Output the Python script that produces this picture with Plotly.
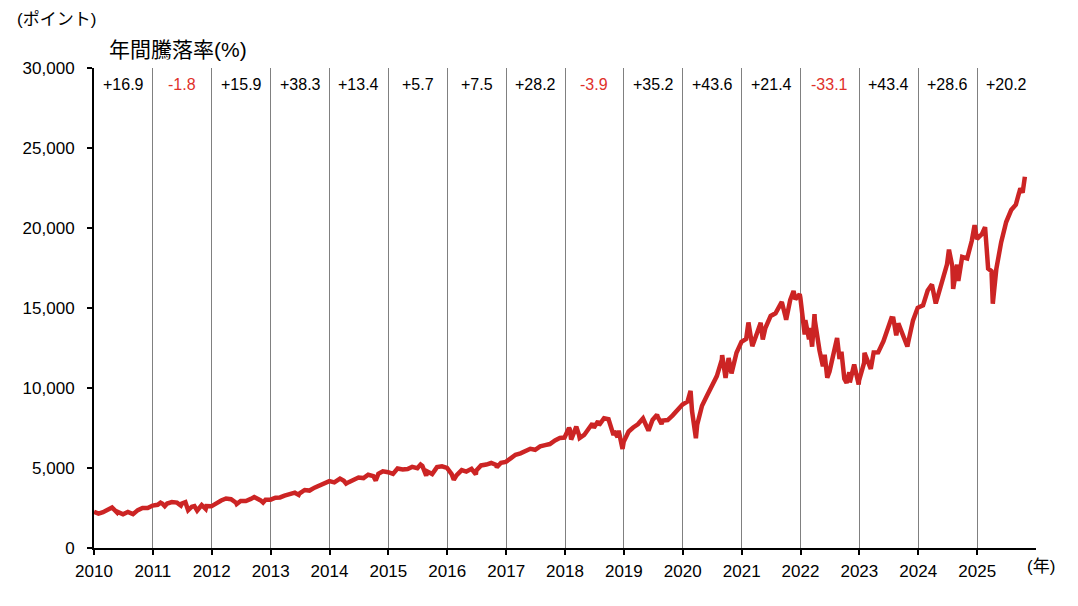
import plotly.graph_objects as go

# ---- data (Nasdaq-style composite index, points) ----
dates = [
    "2010-01-01", "2010-01-29", "2010-02-26", "2010-03-31", "2010-04-23", "2010-04-30", "2010-05-25", "2010-05-28",
    "2010-06-30", "2010-07-30", "2010-08-31", "2010-09-30", "2010-10-29", "2010-11-30", "2010-12-31",
    "2011-01-31", "2011-02-18", "2011-02-28", "2011-03-16", "2011-03-31", "2011-04-29", "2011-05-31", "2011-06-24",
    "2011-06-30", "2011-07-22", "2011-08-08", "2011-08-31", "2011-09-16", "2011-10-03", "2011-10-31", "2011-11-25",
    "2011-11-30", "2011-12-30",
    "2012-01-31", "2012-02-29", "2012-03-30", "2012-04-30", "2012-05-31", "2012-06-04", "2012-06-29", "2012-07-31",
    "2012-08-31", "2012-09-21", "2012-10-31", "2012-11-15", "2012-11-30", "2012-12-31",
    "2013-01-31", "2013-02-28", "2013-03-28", "2013-04-30", "2013-05-31", "2013-06-24", "2013-06-28", "2013-07-31",
    "2013-08-30", "2013-09-30", "2013-10-31", "2013-11-29", "2013-12-31",
    "2014-01-31", "2014-02-28", "2014-03-07", "2014-03-31", "2014-04-14", "2014-04-30", "2014-05-30", "2014-06-30",
    "2014-07-31", "2014-08-29", "2014-09-30", "2014-10-15", "2014-10-31", "2014-11-28", "2014-12-31",
    "2015-01-30", "2015-02-27", "2015-03-31", "2015-04-30", "2015-05-29", "2015-06-30", "2015-07-20", "2015-07-31",
    "2015-08-24", "2015-08-31", "2015-09-30", "2015-10-30", "2015-11-30", "2015-12-31",
    "2016-01-29", "2016-02-11", "2016-02-29", "2016-03-31", "2016-04-29", "2016-05-31", "2016-06-27", "2016-06-30",
    "2016-07-29", "2016-08-31", "2016-09-30", "2016-10-31", "2016-11-04", "2016-11-30", "2016-12-30",
    "2017-01-31", "2017-02-28", "2017-03-31", "2017-04-28", "2017-05-31", "2017-06-30", "2017-07-31", "2017-08-31",
    "2017-09-29", "2017-10-31", "2017-11-30", "2017-12-29",
    "2018-01-26", "2018-01-31", "2018-02-08", "2018-02-28", "2018-03-12", "2018-03-29", "2018-04-02", "2018-04-30",
    "2018-05-31", "2018-06-20", "2018-06-29", "2018-07-25", "2018-07-31", "2018-08-31", "2018-09-28", "2018-10-29",
    "2018-10-31", "2018-11-23", "2018-11-30", "2018-12-24", "2018-12-31",
    "2019-01-31", "2019-02-28", "2019-03-29", "2019-04-30", "2019-05-31", "2019-06-03", "2019-06-28", "2019-07-26",
    "2019-07-31", "2019-08-23", "2019-08-30", "2019-09-30", "2019-10-31", "2019-11-29", "2019-12-31",
    "2020-01-31", "2020-02-19", "2020-02-28", "2020-03-09", "2020-03-23", "2020-03-31", "2020-04-30", "2020-05-29",
    "2020-06-30", "2020-07-31", "2020-08-31", "2020-09-02", "2020-09-23", "2020-09-30", "2020-10-12", "2020-10-30",
    "2020-11-30", "2020-12-31",
    "2021-01-29", "2021-02-12", "2021-02-26", "2021-03-08", "2021-03-31", "2021-04-29", "2021-04-30", "2021-05-12",
    "2021-05-28", "2021-06-30", "2021-07-30", "2021-08-31", "2021-09-07", "2021-09-30", "2021-10-04", "2021-10-29",
    "2021-11-19", "2021-11-30", "2021-12-27", "2021-12-31",
    "2022-01-27", "2022-01-31", "2022-02-23", "2022-02-28", "2022-03-14", "2022-03-29", "2022-03-31", "2022-04-29",
    "2022-05-20", "2022-05-31", "2022-06-16", "2022-06-30", "2022-07-29", "2022-08-16", "2022-08-31", "2022-09-12",
    "2022-09-30", "2022-10-14", "2022-10-31", "2022-11-03", "2022-11-30", "2022-12-28", "2022-12-30",
    "2023-01-31", "2023-02-02", "2023-02-28", "2023-03-13", "2023-03-31", "2023-04-28", "2023-05-31", "2023-06-30",
    "2023-07-19", "2023-07-31", "2023-08-18", "2023-08-31", "2023-09-29", "2023-10-26", "2023-10-31", "2023-11-30",
    "2023-12-29",
    "2024-01-31", "2024-02-29", "2024-03-21", "2024-03-28", "2024-04-19", "2024-04-30", "2024-05-31", "2024-06-28",
    "2024-07-10", "2024-07-31", "2024-08-05", "2024-08-30", "2024-09-06", "2024-09-30", "2024-10-31", "2024-11-29",
    "2024-12-16", "2024-12-31",
    "2025-01-31", "2025-02-19", "2025-02-28", "2025-03-10", "2025-03-31", "2025-04-08", "2025-04-30", "2025-05-30",
    "2025-06-30", "2025-07-31", "2025-08-29", "2025-09-26", "2025-10-10", "2025-10-24",
]
values = [
    2269, 2147, 2238, 2398, 2530, 2461, 2210, 2257,
    2109, 2255, 2114, 2369, 2507, 2498, 2653,
    2700, 2834, 2782, 2617, 2781, 2874, 2835, 2652,
    2774, 2859, 2358, 2579, 2622, 2335, 2684, 2441,
    2620, 2605,
    2814, 2967, 3092, 3046, 2827, 2747, 2935, 2940,
    3067, 3180, 2977, 2837, 3010, 3020,
    3142, 3160, 3268, 3329, 3456, 3320, 3403, 3626,
    3590, 3771, 3920, 4060, 4177,
    4104, 4308, 4336, 4199, 4022, 4115, 4243, 4408,
    4370, 4580, 4493, 4215, 4631, 4792, 4736,
    4635, 4964, 4901, 4941, 5070, 4987, 5219, 5128,
    4526, 4777, 4620, 5054, 5109, 5007,
    4614, 4267, 4558, 4870, 4775, 4948, 4594, 4843,
    5162, 5213, 5312, 5189, 5046, 5324, 5383,
    5615, 5825, 5912, 6048, 6199, 6140, 6348, 6429,
    6496, 6728, 6874, 6903,
    7505, 7411, 6777, 7273, 7588, 7063, 6870, 7066,
    7442, 7781, 7510, 7932, 7672, 8110, 8046, 7050,
    7306, 6939, 7331, 6193, 6635,
    7282, 7533, 7729, 8095, 7453, 7333, 8006, 8330,
    8175, 7751, 7963, 7999, 8292, 8665, 8973,
    9151, 9817, 8567, 7950, 6861, 7700, 8890, 9490,
    10059, 10745, 11775, 12056, 10633, 11168, 11876, 10912,
    12199, 12888,
    13071, 14095, 13192, 12609, 13247, 14082, 13962, 13032,
    13749, 14504, 14673, 15259, 15374, 14449, 14255, 15498,
    16057, 15538, 15871, 15645,
    13352, 14240, 13038, 13751, 12581, 14619, 14221, 12335,
    11354, 12081, 10646, 11029, 12391, 13128, 11816, 12266,
    10576, 10321, 10988, 10343, 11468, 10213, 10466,
    11585, 12201, 11456, 11189, 12222, 12227, 12935, 13788,
    14358, 14346, 13290, 14035, 13219, 12595, 12851, 14226,
    15011,
    15164, 16092, 16401, 16379, 15282, 15658, 16735, 17733,
    18647, 17599, 16200, 17714, 16690, 18189, 18095, 19218,
    20173, 19311,
    19627, 20056, 18847, 17468, 17299, 15268, 17446, 19114,
    20370, 21122, 21456, 22484, 22204, 23205,
]

years = list(range(2010, 2026))
annual_returns = [16.9, -1.8, 15.9, 38.3, 13.4, 5.7, 7.5, 28.2, -3.9, 35.2, 43.6, 21.4, -33.1, 43.4, 28.6, 20.2]

LINE_RED = "#CC2424"
NEG_RED = "#E0302A"
FONT = "Liberation Sans, Arial, Noto Sans CJK JP, sans-serif"

fig = go.Figure()
fig.add_trace(go.Scatter(
    x=dates, y=values, mode="lines",
    line=dict(color=LINE_RED, width=4.5),
    hoverinfo="x+y", showlegend=False,
))

annotations = []
for yr, r in zip(years, annual_returns):
    txt = f"+{r:.1f}" if r >= 0 else f"{r:.1f}"
    annotations.append(dict(
        x=f"{yr}-07-02", xref="x", y=0.965, yref="paper",
        text=txt, showarrow=False, xanchor="center", yanchor="middle",
        font=dict(size=16, color="#000000" if r >= 0 else NEG_RED, family=FONT),
    ))

annotations += [
    dict(x=-0.084, xref="paper", y=1.1, yref="paper", text="(ポイント)", showarrow=False,
         xanchor="left", yanchor="middle", font=dict(size=17, color="#000", family=FONT)),
    dict(x=0.089, xref="paper", y=1.038, yref="paper", text="年間騰落率(%)", showarrow=False,
         xanchor="center", yanchor="middle", font=dict(size=21, color="#000", family=FONT)),
    dict(x=0.988, xref="paper", y=-0.038, yref="paper", text="(年)", showarrow=False,
         xanchor="left", yanchor="middle", font=dict(size=17, color="#000", family=FONT)),
]

fig.update_layout(
    width=1062, height=590,
    margin=dict(l=86, r=34, t=60, b=50),
    paper_bgcolor="white", plot_bgcolor="white",
    font=dict(family=FONT, size=16, color="#000"),
    annotations=annotations,
)
fig.update_xaxes(
    type="date",
    range=["2010-01-01", "2026-01-01"],
    tickvals=[f"{y}-01-01" for y in years],
    ticktext=[str(y) for y in years],
    showgrid=True, gridcolor="#808080", gridwidth=1,
    showline=True, linecolor="#000", linewidth=2,
    ticks="outside", ticklen=5, tickcolor="#000", tickwidth=2,
    ticklabelstandoff=2,
    tickfont=dict(size=17, family=FONT, color="#000"),
    zeroline=False,
)
fig.update_yaxes(
    range=[0, 30000],
    tickvals=[0, 5000, 10000, 15000, 20000, 25000, 30000],
    tickformat=",",
    showgrid=False,
    showline=True, linecolor="#000", linewidth=2,
    ticks="outside", ticklen=5, tickcolor="#000", tickwidth=2,
    ticklabelstandoff=9,
    tickfont=dict(size=17, family=FONT, color="#000"),
    zeroline=False,
)

fig.write_html("out.html")
